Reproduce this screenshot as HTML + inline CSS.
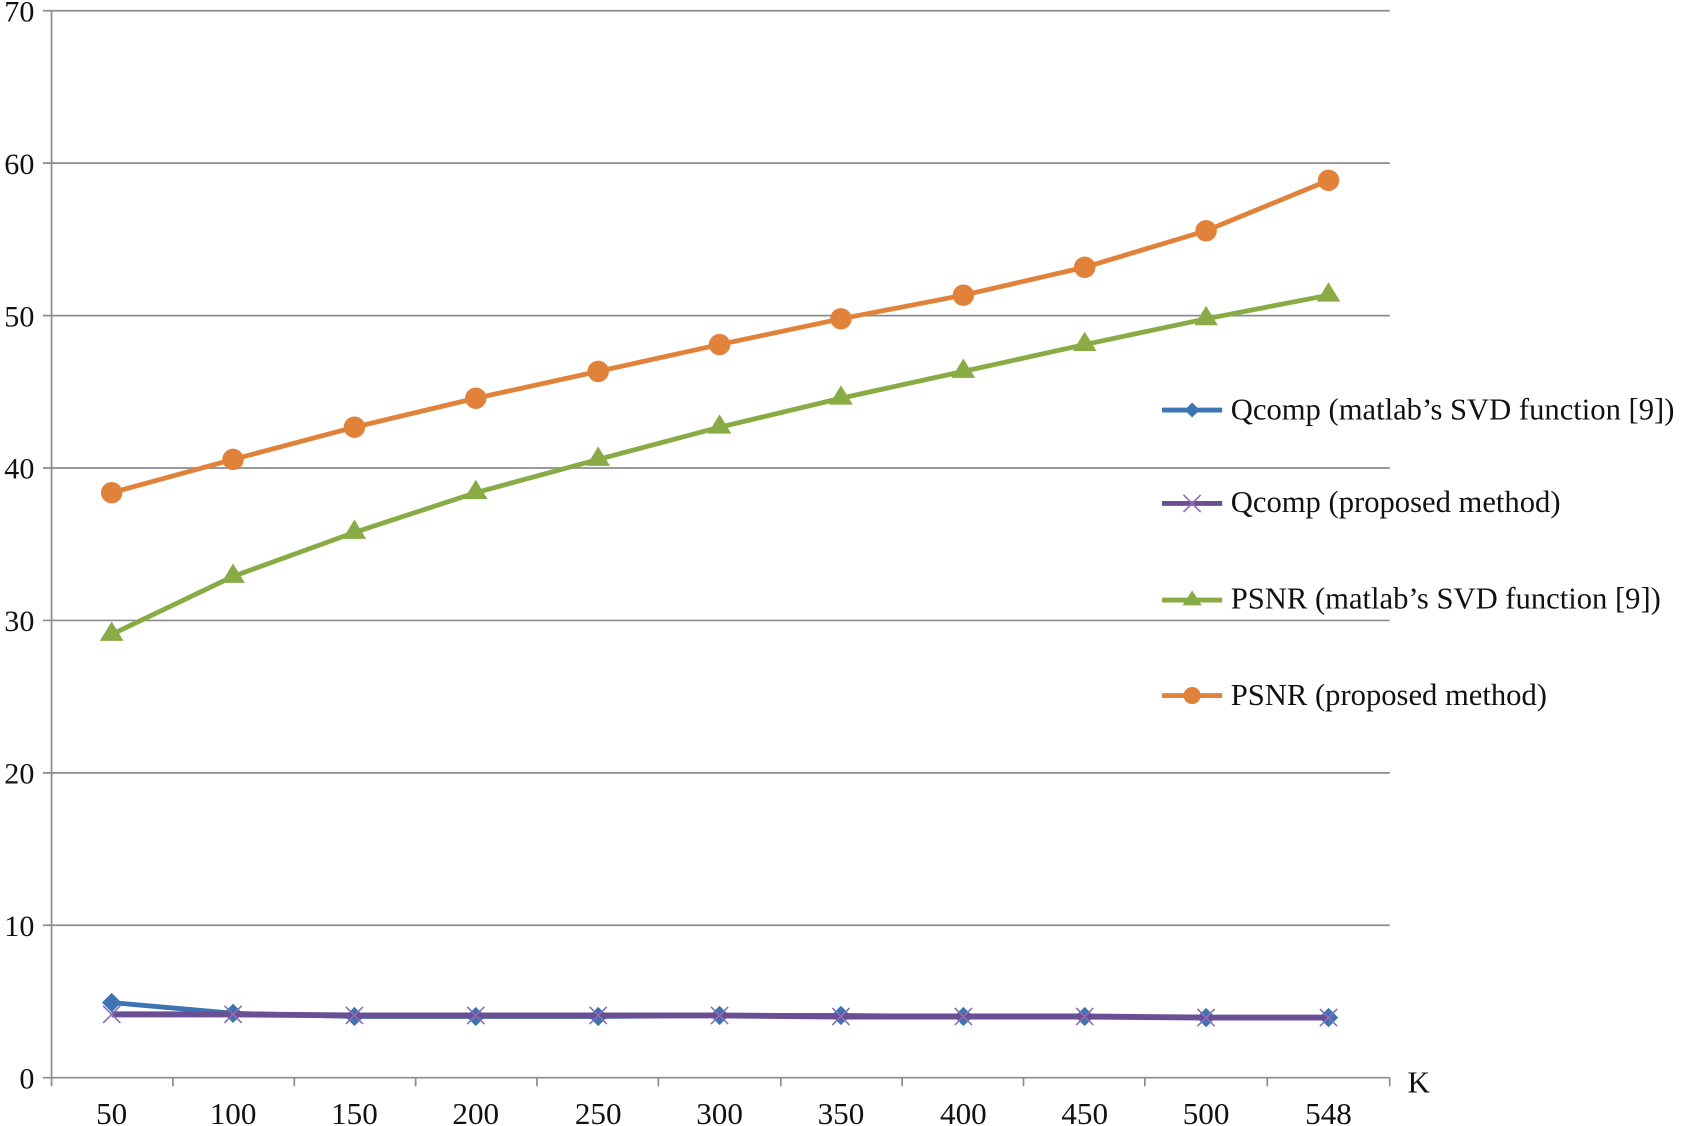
<!DOCTYPE html>
<html><head><meta charset="utf-8"><style>html,body{margin:0;padding:0;background:#fff}svg{display:block}</style></head>
<body>
<svg width="1684" height="1126" viewBox="0 0 1568 1049" preserveAspectRatio="none" xmlns="http://www.w3.org/2000/svg" font-family="Liberation Serif, serif">
<g stroke="#8c8c8c" stroke-width="1.6">
<line x1="40" y1="10" x2="1294" y2="10"/><line x1="40" y1="152" x2="1294" y2="152"/><line x1="40" y1="294" x2="1294" y2="294"/><line x1="40" y1="436" x2="1294" y2="436"/><line x1="40" y1="578" x2="1294" y2="578"/><line x1="40" y1="720" x2="1294" y2="720"/><line x1="40" y1="862" x2="1294" y2="862"/><line x1="40" y1="1004" x2="1294" y2="1004"/>
<line x1="48" y1="10" x2="48" y2="1012"/>
<line x1="161" y1="1004" x2="161" y2="1012"/><line x1="274" y1="1004" x2="274" y2="1012"/><line x1="387" y1="1004" x2="387" y2="1012"/><line x1="500" y1="1004" x2="500" y2="1012"/><line x1="613" y1="1004" x2="613" y2="1012"/><line x1="727" y1="1004" x2="727" y2="1012"/><line x1="840" y1="1004" x2="840" y2="1012"/><line x1="953" y1="1004" x2="953" y2="1012"/><line x1="1066" y1="1004" x2="1066" y2="1012"/><line x1="1180" y1="1004" x2="1180" y2="1012"/><line x1="1294" y1="1004" x2="1294" y2="1012"/>
</g>
<g font-size="28" fill="#111" text-anchor="end">
<text x="32" y="20">70</text><text x="32" y="162">60</text><text x="32" y="304">50</text><text x="32" y="446">40</text><text x="32" y="588">30</text><text x="32" y="730">20</text><text x="32" y="872">10</text><text x="32" y="1014">0</text>
</g>
<g font-size="29" fill="#111" text-anchor="middle">
<text x="104" y="1047">50</text><text x="217" y="1047">100</text><text x="330" y="1047">150</text><text x="443" y="1047">200</text><text x="557" y="1047">250</text><text x="670" y="1047">300</text><text x="783" y="1047">350</text><text x="897" y="1047">400</text><text x="1010" y="1047">450</text><text x="1123" y="1047">500</text><text x="1237" y="1047">548</text>
<text x="1321" y="1018">K</text>
</g>
<polyline fill="none" stroke="#e1823a" stroke-width="4.5" points="104,459 217,428 330,398 443,371 557,346 670,321 783,297 897,275 1010,249 1123,215 1237,168"/>
<g fill="#e1823a"><circle cx="104" cy="459" r="10"/><circle cx="217" cy="428" r="10"/><circle cx="330" cy="398" r="10"/><circle cx="443" cy="371" r="10"/><circle cx="557" cy="346" r="10"/><circle cx="670" cy="321" r="10"/><circle cx="783" cy="297" r="10"/><circle cx="897" cy="275" r="10"/><circle cx="1010" cy="249" r="10"/><circle cx="1123" cy="215" r="10"/><circle cx="1237" cy="168" r="10"/></g>
<polyline fill="none" stroke="#88ab45" stroke-width="4.5" points="104,591 217,537 330,496 443,459 557,428 670,398 783,371 897,346 1010,321 1123,297 1237,275"/>
<g fill="#88ab45">
<path d="M104,579 l11,18 h-22z"/><path d="M217,525 l11,18 h-22z"/><path d="M330,484 l11,18 h-22z"/><path d="M443,447 l11,18 h-22z"/><path d="M557,416 l11,18 h-22z"/><path d="M670,386 l11,18 h-22z"/><path d="M783,359 l11,18 h-22z"/><path d="M897,334 l11,18 h-22z"/><path d="M1010,309 l11,18 h-22z"/><path d="M1123,285 l11,18 h-22z"/><path d="M1237,263 l11,18 h-22z"/>
</g>
<polyline fill="none" stroke="#3e74b2" stroke-width="4.5" points="104,934 217,944 330,947 443,947 557,947 670,946 783,946 897,947 1010,947 1123,948 1237,948"/>
<g fill="#3e74b2">
<path d="M104,925 l9,9 -9,9 -9,-9z"/><path d="M217,935 l9,9 -9,9 -9,-9z"/><path d="M330,938 l9,9 -9,9 -9,-9z"/><path d="M443,938 l9,9 -9,9 -9,-9z"/><path d="M557,938 l9,9 -9,9 -9,-9z"/><path d="M670,937 l9,9 -9,9 -9,-9z"/><path d="M783,937 l9,9 -9,9 -9,-9z"/><path d="M897,938 l9,9 -9,9 -9,-9z"/><path d="M1010,938 l9,9 -9,9 -9,-9z"/><path d="M1123,939 l9,9 -9,9 -9,-9z"/><path d="M1237,939 l9,9 -9,9 -9,-9z"/>
</g>
<polyline fill="none" stroke="#6b4f95" stroke-width="5.5" points="104,945 217,945 330,946 443,946 557,946 670,946 783,947 897,947 1010,947 1123,948 1237,948"/>
<g stroke="#8a70b5" stroke-width="1.5">
<path d="M96,937 l16,16 M112,937 l-16,16"/><path d="M209,937 l16,16 M225,937 l-16,16"/><path d="M322,938 l16,16 M338,938 l-16,16"/><path d="M435,938 l16,16 M451,938 l-16,16"/><path d="M549,938 l16,16 M565,938 l-16,16"/><path d="M662,938 l16,16 M678,938 l-16,16"/><path d="M775,939 l16,16 M791,939 l-16,16"/><path d="M889,939 l16,16 M905,939 l-16,16"/><path d="M1002,939 l16,16 M1018,939 l-16,16"/><path d="M1115,940 l16,16 M1131,940 l-16,16"/><path d="M1229,940 l16,16 M1245,940 l-16,16"/>
</g>
<line x1="1082" y1="382" x2="1138" y2="382" stroke="#3e74b2" stroke-width="4.5"/><path d="M1110,375 l7,7 -7,7 -7,-7z" fill="#3e74b2"/>
<line x1="1082" y1="469" x2="1138" y2="469" stroke="#6b4f95" stroke-width="4.5"/><path d="M1102,461 l16,16 M1118,461 l-16,16" stroke="#8a70b5" stroke-width="1.5"/>
<line x1="1082" y1="559" x2="1138" y2="559" stroke="#88ab45" stroke-width="4.5"/><path d="M1110,550 l9,14 h-18z" fill="#88ab45"/>
<line x1="1082" y1="648" x2="1138" y2="648" stroke="#e1823a" stroke-width="4.5"/><circle cx="1110" cy="648" r="8" fill="#e1823a"/>
<g font-size="28.5" fill="#111">
<text x="1146" y="391">Qcomp (matlab’s SVD function [9])</text>
<text x="1146" y="477">Qcomp (proposed method)</text>
<text x="1146" y="567">PSNR (matlab’s SVD function [9])</text>
<text x="1146" y="657">PSNR (proposed method)</text>
</g>
</svg>
</body></html>
